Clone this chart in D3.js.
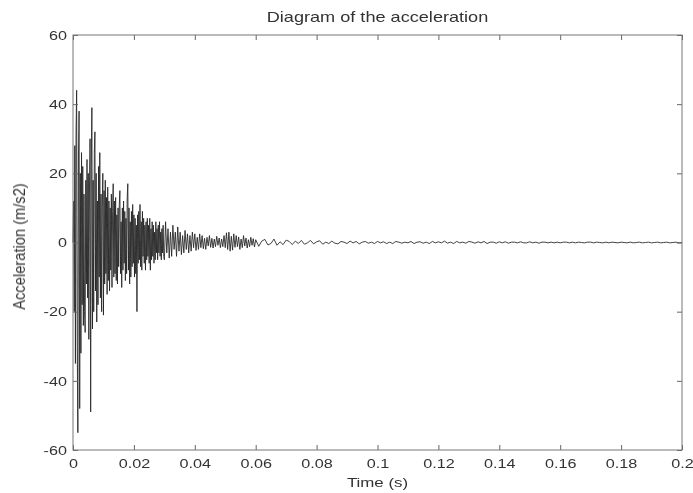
<!DOCTYPE html>
<html>
<head>
<meta charset="utf-8">
<script src="https://cdn.jsdelivr.net/npm/d3@7"></script>
<style>
  body { margin: 0; background: #fff; }
  text { font-family: "Liberation Sans", Arial, sans-serif; fill: #333; }
</style>
</head>
<body>
<div id="chart"></div>
<script>
// acceleration samples, every 0.2 ms from t = 0
var accelStart = [
  0, 12, -20, 28, -35, 32, 44, -30, -55, 25,
  38, -48, 20, -32, 26, -18, 22, -24, 14, -20,
  -26, 18, -12, 24, -16, 20, -28, 14, 30, -49,
  22, 39, -25, 18, -20, 26, 32, -14, 20, -23,
  12, -18, 22, -10, 26, -16, 14, -20, 10, 20,
  -21, 15, -12, 18, -9, 13, -15, 16, -11, 12,
  -14, 10, -8, 14, -13, 9, 17, -10, 12, -9,
  13, -11, 8, -12, 10, -7, 11, 15, -9, 6,
  -13, 10, -8, 12, -6, 9, -11, 7, -9, 13,
  17, -8, 10, -12, 6, -10, 9, -7, 11, -6,
  8, -10, 7, -9, 5, -20, 8, -6, 9, -5,
  11, -7, 6, -8, 9, -4, 7, -6, 5, -8,
  6, -5, 7, -4, 5, -6, 7, -8, 4, -5,
  6, -4, 5, -6, 3, -5, 6, -3, 4, -5,
  5, -3, 6, -4, 3, -5, 4, -3, 5, -4
];
var startStep = 0.0002;

// every 0.4 ms from t = 0.03
var accelMid = [
  -5, 6, -3, 4, -4.5, 3, -4, 5, -2, 3,
  -4, 4.5, -2.5, 3, -3.5, 2, -3, 3.5, -2, 2.5,
  -3, 2, -2.5, 3, -1.5, 2.5, -2.3, 1.5, -2, 2.5,
  -1.5, 2, -1.8, 1.2, -2, 1.5, -1, 2, -1.4, 1.2,
  -1.6, 1, -1.2, 1.8, -0.8, 1.3, -1.5, 1, -1.2, 2,
  -1.5, 2.8, -2, 3, -2.5, 1.8, -2.2, 2.5, -1.4, 2,
  -1.2, 1.6, -2, 1, -1.5, 2, -1, 1.3, -1.6, 0.8,
  -1.2, 1.5, -0.8, 1.1, -1.3
];
var midStart = 0.03, midStep = 0.0004;

// every 1 ms from t = 0.06 to 0.2
var accelTail = [
  0.8, -1.1, 0.4, 0.9, -0.7, -0.3, 1.0, -0.8, 0.2, -0.6,
  0.7, 0.3, -0.6, 0.4, -0.3, 0.6, -0.5, -0.1, 0.6, -0.4,
  0.2, 0.5, -0.5, 0.1, -0.3, 0.4, -0.2, -0.4, 0.3, 0.1,
  -0.3, 0.4, -0.1, 0.3, -0.4, 0.1, 0.3, -0.2, 0.1, -0.3,
  0.3, -0.1, 0.2, -0.3, 0.1, -0.3, 0.3, 0.1, -0.2, 0.1,
  -0.1, 0.3, -0.3, 0.1, 0.2, -0.2, 0.1, -0.3, 0.3, -0.1,
  0.2, -0.1, 0.4, -0.2, 0.1, -0.3, 0.3, -0.1, 0.1, -0.2,
  0.3, 0.1, -0.2, 0.2, -0.1, 0.3, -0.3, 0.1, 0.1, -0.2,
  0.2, -0.1, 0.2, -0.2, 0.1, 0.1, -0.1, 0.2, -0.1, -0.1,
  0.2, -0.1, 0.1, -0.2, 0.1, 0.1, -0.1, 0.1, -0.1, 0.1,
  -0.1, 0.1, 0.1, -0.1, 0.1, -0.1, 0.1, 0, -0.1, 0.1,
  0.1, -0.1, 0.1, 0, -0.1, 0.1, -0.1, 0.1, 0, -0.1,
  0.1, 0, -0.1, 0.1, -0.1, 0, 0.1, -0.1, 0, 0.1,
  -0.1, 0, 0.1, -0.1, 0, 0.1, -0.1, 0, 0.1, -0.1, 0
];
var tailStart = 0.06, tailStep = 0.001;

var xTicks = [0, 0.02, 0.04, 0.06, 0.08, 0.1, 0.12, 0.14, 0.16, 0.18, 0.2];
var yTicks = [-60, -40, -20, 0, 20, 40, 60];

var width = 693, height = 493;
var margin = { top: 35, right: 11, bottom: 43, left: 73 };

var svg = d3.select("#chart").append("svg")
    .attr("width", width).attr("height", height);

var x = d3.scaleLinear().domain([0, 0.2]).range([margin.left, width - margin.right]);
var y = d3.scaleLinear().domain([-60, 60]).range([height - margin.bottom, margin.top]);

// join the three sampled parts as [t, a] pairs
function toPoints(vals, t0, dt) {
    return vals.map(function (a, i) { return [t0 + i * dt, a]; });
}
var points = toPoints(accelStart, 0, startStep)
    .concat(toPoints(accelMid, midStart, midStep))
    .concat(toPoints(accelTail, tailStart, tailStep));

var line = d3.line()
    .x(function (d) { return x(d[0]); })
    .y(function (d) { return y(d[1]); });

/* the scanned figure is soft, so blur the trace and the text a little */
var defs = svg.append("defs");
defs.append("filter").attr("id", "soft")
    .append("feGaussianBlur").attr("stdDeviation", 0.5);
defs.append("filter").attr("id", "softText")
    .append("feGaussianBlur").attr("stdDeviation", 0.35);

svg.append("path")
    .datum(points)
    .attr("d", line)
    .attr("fill", "none")
    .attr("stroke", "#222")
    .attr("stroke-opacity", 0.85)
    .attr("stroke-width", 1)
    .attr("stroke-linejoin", "round")
    .attr("filter", "url(#soft)");

/* matlab-like box with inward ticks on every side,
   the source picture is stretched sideways so the text is too */
var tickFmt = function (d) { return String(d); };
function styleAxis(g) {
    g.select(".domain").remove();
    g.selectAll(".tick line").attr("stroke", "#666");
    g.selectAll(".tick text").attr("font-size", 13.5).attr("fill", "#3a3a3a")
        .attr("transform", "scale(1.2,1)")
        .attr("filter", "url(#softText)");
}

svg.append("g")
    .attr("transform", "translate(0," + y(-60) + ")")
    .call(d3.axisBottom(x).tickValues(xTicks).tickFormat(tickFmt).tickSize(-5).tickPadding(8))
    .call(styleAxis);
svg.append("g")
    .attr("transform", "translate(0," + y(60) + ")")
    .call(d3.axisTop(x).tickValues(xTicks).tickFormat("").tickSize(-5))
    .call(styleAxis);
svg.append("g")
    .attr("transform", "translate(" + x(0) + ",0)")
    .call(d3.axisLeft(y).tickValues(yTicks).tickFormat(tickFmt).tickSize(-5).tickPadding(5))
    .call(styleAxis);
svg.append("g")
    .attr("transform", "translate(" + x(0.2) + ",0)")
    .call(d3.axisRight(y).tickValues(yTicks).tickFormat("").tickSize(-5))
    .call(styleAxis);

svg.append("rect")
    .attr("x", x(0)).attr("y", y(60))
    .attr("width", x(0.2) - x(0)).attr("height", y(-60) - y(60))
    .attr("fill", "none").attr("stroke", "#777").attr("stroke-width", 1);

// labels
var midX = (x(0) + x(0.2)) / 2;
svg.append("text")
    .attr("transform", "translate(" + midX + ",22) scale(1.25,1)")
    .attr("text-anchor", "middle").attr("font-size", 14.5)
    .attr("filter", "url(#softText)")
    .text("Diagram of the acceleration");

svg.append("text")
    .attr("transform", "translate(" + midX + ",487) scale(1.25,1)")
    .attr("text-anchor", "middle").attr("font-size", 13.5)
    .attr("filter", "url(#softText)")
    .text("Time (s)");

svg.append("text")
    .attr("transform", "translate(25," + (y(0) + 4) + ") rotate(-90) scale(1.05,1.15)")
    .attr("text-anchor", "middle").attr("font-size", 14)
    .attr("filter", "url(#softText)")
    .text("Acceleration (m/s2)");
</script>
</body>
</html>
